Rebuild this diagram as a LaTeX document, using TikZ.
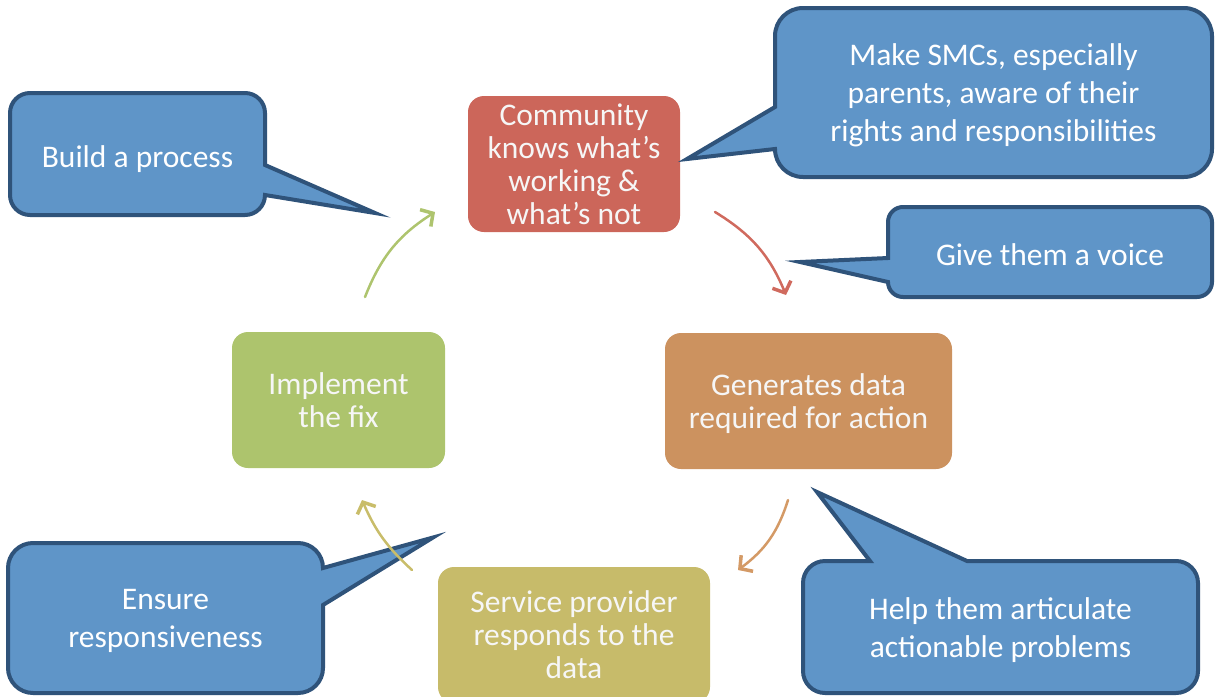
\documentclass[tikz,border=0pt]{standalone}
\usepackage{fontspec}
\setmainfont{Carlito}
\usetikzlibrary{arrows.meta,calc}
\definecolor{cfill}{HTML}{5F95C8}
\definecolor{cline}{HTML}{2F537A}
\definecolor{cred}{HTML}{CC665A}
\definecolor{corange}{HTML}{CC925F}
\definecolor{colive}{HTML}{C7BB6A}
\definecolor{cgreen}{HTML}{ADC46D}
\definecolor{ared}{HTML}{D06A5E}
\definecolor{aorange}{HTML}{D49A66}
\definecolor{aolive}{HTML}{C9BD6A}
\definecolor{agreen}{HTML}{AEC46E}
\definecolor{boxtext}{HTML}{F6F6F6}
\begin{document}
\begin{tikzpicture}[x=1pt,y=1pt,
  stepbox/.style={rounded corners=16pt, text=boxtext, align=center, inner sep=0pt,
    minimum height=136pt, font=\fontsize{31.5}{33}\selectfont},
  steptext/.style={text=boxtext, align=center, inner sep=0pt, font=\fontsize{31.5}{33}\selectfont},
  callshape/.style={fill=cfill, draw=cline, line width=4pt, line join=miter},
  calltext/.style={text=white, align=center, inner sep=0pt, yshift=-3pt, font=\fontsize{31.5}{38}\selectfont},
  cyc/.style={line width=2.5pt, line cap=round, -{Straight Barb[length=9pt,width=20pt,line width=3.5pt]}}
]
\useasboundingbox (0,0) rectangle (1215,-696);

% ---- cycle boxes ----
\node[stepbox, fill=cred, minimum width=212pt] (comm) at (574,-164) {Community\\knows what’s\\working \&\\what’s not};
\node[stepbox, fill=corange, minimum width=287pt] (gen) at (808.5,-401) {};
\node[steptext] (gentext) at ($(gen.center)+(0,-3)$) {Generates data\\required for action};
\node[stepbox, fill=colive, minimum width=272pt] (serv) at (574,-635) {Service provider\\responds to the\\data};
\node[stepbox, fill=cgreen, minimum width=213pt] (impl) at (338.5,-400) {Implement\\the fix};

% ---- callouts ----
\coordinate (tbuild) at (375,-213);
\draw[callshape] (30,-93) -- (245,-93) arc(90:0:20) -- (265,-165) -- (tbuild) -- (265,-195)
  arc(0:-90:20) -- (30,-215) arc(270:180:20) -- (10,-113) arc(180:90:20) -- cycle;
\node[calltext] (build) at (137.5,-156) {Build a process};

\coordinate (tsmc) at (687,-159);
\draw[callshape] (803,-8) -- (1184,-8) arc(90:0:28) -- (1212,-149) arc(0:-90:28) -- (803,-177)
  arc(270:180:28) -- (tsmc) -- (775,-107) -- (775,-36) arc(180:90:28) -- cycle;
\node[calltext] (smc) at (993.5,-92.5) {Make SMCs, especially\\parents, aware of their\\rights and responsibilities};

\coordinate (tvoice) at (800,-262);
\draw[callshape] (903,-207) -- (1197,-207) arc(90:0:15) -- (1212,-282) arc(0:-90:15) -- (903,-297)
  arc(270:180:15) -- (tvoice) -- (888,-258) -- (888,-222) arc(180:90:15) -- cycle;
\node[calltext] (voice) at (1050,-252) {Give them a voice};

\coordinate (thelp) at (817,-492);
\draw[callshape] (825,-561) -- (870,-561) -- (thelp) -- (967,-561) -- (1176,-561) arc(90:0:22)
  -- (1198,-671) arc(0:-90:22) -- (825,-693) arc(270:180:22) -- (803,-583) arc(180:90:22) -- cycle;
\node[calltext] (help) at (1000.5,-627) {Help them articulate\\actionable problems};

\coordinate (tens) at (433,-537.5);
\draw[callshape] (33,-543) -- (298,-543) arc(90:0:25) -- (323,-568) -- (tens) -- (323,-605)
  -- (323,-668) arc(0:-90:25) -- (33,-693) arc(270:180:25) -- (8,-568) arc(180:90:25) -- cycle;
\node[calltext] (ens) at (165.5,-618) {Ensure\\responsiveness};

% ---- cycle arrows ----
\coordinate (r1) at (715,-212); \coordinate (r2) at (786,-295);
\coordinate (o1) at (788,-500); \coordinate (o2) at (738,-570);
\coordinate (l1) at (412,-570); \coordinate (l2) at (362,-500);
\coordinate (g1) at (365,-297); \coordinate (g2) at (435,-212);
\draw[cyc, ared] (r1) to[bend left=18] (r2);
\draw[cyc, aorange] (o1) to[bend left=18] (o2);
\draw[cyc, aolive] (l1) to[bend left=12] (l2);
\draw[cyc, agreen] (g1) to[bend left=18] (g2);
\end{tikzpicture}
\end{document}
